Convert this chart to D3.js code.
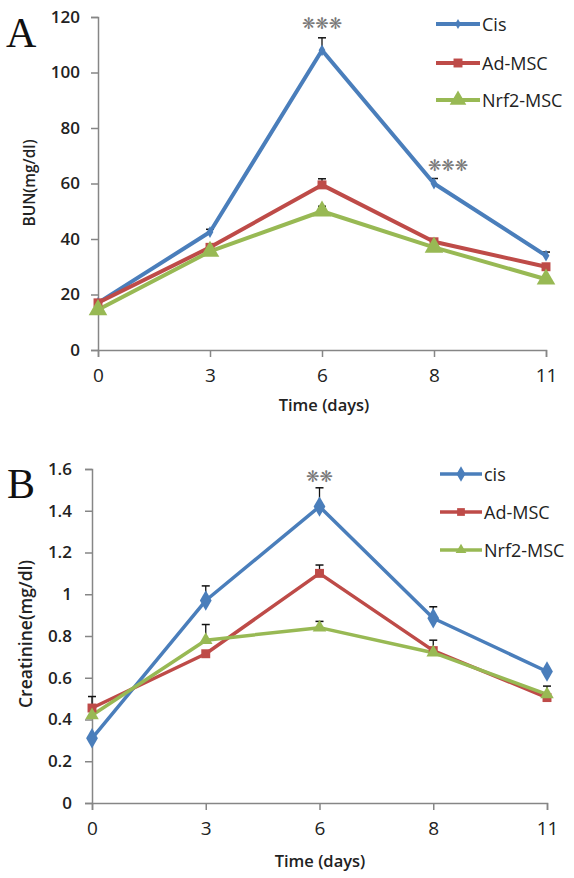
<!DOCTYPE html>
<html><head><meta charset="utf-8">
<script src="https://cdn.jsdelivr.net/npm/d3@7"></script>
<style>body{margin:0;background:#fff}svg{display:block}</style>
</head><body>
<svg id="c" width="574" height="878"></svg>
<script>
const days = ["0","3","6","8","11"];
// Panel A: BUN (mg/dl)
const bunCis   = [17, 42.5, 108, 60, 34];
const bunAd    = [17, 37, 59.5, 39, 30];
const bunNrf2  = [14.5, 35.5, 50, 37, 25.5];
const bunCisErr  = [0.8, 1, 4.5, 1.8, 1.3];
const bunAdErr   = [0.6, 0.8, 2.2, 1, 0.6];
const bunNrf2Err = [0.5, 0.6, 1.8, 0.6, 0.5];
const bunTicks = [0,20,40,60,80,100,120];
// Panel B: Creatinine (mg/dl)
const crCis   = [0.31, 0.97, 1.42, 0.885, 0.63];
const crAd    = [0.455, 0.715, 1.10, 0.73, 0.505];
const crNrf2  = [0.42, 0.78, 0.84, 0.72, 0.52];
const crCisErr  = [0, 0.07, 0.09, 0.055, 0];
const crAdErr   = [0.055, 0, 0.04, 0.05, 0];
const crNrf2Err = [0, 0.075, 0.03, 0, 0.04];
const crTicks = [0,0.2,0.4,0.6,0.8,1,1.2,1.4,1.6];

const colors = {cis:"#4a7ebb", ad:"#be4b48", nrf:"#98b954"};
const svg = d3.select("#c");

function panel(cfg){
  const g = svg.append("g");
  const x = d3.scalePoint().domain(days).range(cfg.xr);
  const y = d3.scaleLinear().domain(cfg.yd).range(cfg.yr);
  // axes
  const ya = g.append("g").attr("transform",`translate(${cfg.xr[0]},0)`)
    .call(d3.axisLeft(y).tickValues(cfg.ticks).tickSize(7).tickPadding(cfg.ypad).tickFormat(d=>String(d)));
  ya.select(".domain").attr("stroke","#868686").attr("stroke-width",1.5);
  ya.selectAll(".tick line").attr("stroke","#868686").attr("stroke-width",1.5);
  ya.selectAll("text").attr("font-family","Open Sans").attr("font-weight",600).attr("font-size",17).attr("fill","#222");
  const xa = g.append("g").attr("transform",`translate(0,${cfg.yr[0]})`)
    .call(d3.axisBottom(x).tickSize(7).tickPadding(cfg.xpad));
  xa.select(".domain").attr("stroke","#868686").attr("stroke-width",1.5);
  xa.selectAll(".tick line").attr("stroke","#868686").attr("stroke-width",1.5);
  xa.selectAll("text").attr("font-family","Open Sans").attr("font-size",19).attr("fill","#222");
  // labels
  g.append("text").attr("x",cfg.xlab[0]).attr("y",cfg.xlab[1]).attr("text-anchor","middle")
    .attr("font-family","Open Sans").attr("font-weight",600).attr("font-size",16.5).attr("fill","#222").text("Time (days)");
  g.append("text").attr("transform",`translate(${cfg.ylab[0]},${cfg.ylab[1]}) rotate(-90)`).attr("text-anchor","middle")
    .attr("font-family","Open Sans").attr("font-weight",600).attr("font-size",cfg.ylabSize).attr("fill","#222").text(cfg.ylabel);
  g.append("text").attr("x",cfg.letter[0]).attr("y",cfg.letter[1])
    .attr("font-family","Liberation Serif").attr("font-size",42).attr("fill","#111").text(cfg.letterText);

  const line = d3.line().x((d,i)=>x(days[i])).y(d=>y(d));
  cfg.series.forEach(s=>{
    s.err.forEach((e,i)=>{
      if(!e) return;
      const cx = x(days[i]);
      g.append("line").attr("x1",cx).attr("x2",cx).attr("y1",y(s.v[i])).attr("y2",y(s.v[i]+e)).attr("stroke","#111").attr("stroke-width",1.3);
      g.append("line").attr("x1",cx-4).attr("x2",cx+4).attr("y1",y(s.v[i]+e)).attr("y2",y(s.v[i]+e)).attr("stroke","#111").attr("stroke-width",1.5);
    });
  });
  cfg.series.forEach(s=>{
    g.append("path").datum(s.v).attr("d",line).attr("fill","none").attr("stroke",s.c).attr("stroke-width",cfg.lw).attr("stroke-linejoin","round");
  });
  cfg.series.forEach(s=>{
    const sym = d3.symbol().type(s.sym).size(s.size);
    g.selectAll(null).data(s.v).enter().append("path")
      .attr("transform",(d,i)=>`translate(${x(days[i])},${y(d)})`)
      .attr("d",sym).attr("fill",s.c);
  });
  cfg.stars.forEach(st=>{
    g.append("text").attr("x",x(days[st.i])+(st.dx||0)).attr("y",y(st.v)).attr("text-anchor","middle")
      .attr("font-family","DejaVu Sans").attr("font-size",16).attr("fill","#777").text(st.t);
  });
  cfg.series.forEach((s,k)=>{
    const ly = cfg.leg.y[k];
    g.append("line").attr("x1",cfg.leg.x1).attr("x2",cfg.leg.x2).attr("y1",ly).attr("y2",ly).attr("stroke",s.c).attr("stroke-width",cfg.lw);
    g.append("path").attr("transform",`translate(${(cfg.leg.x1+cfg.leg.x2)/2},${ly})`).attr("d",d3.symbol().type(s.sym).size(s.lsize)()).attr("fill",s.c);
    g.append("text").attr("x",cfg.leg.x2+2).attr("y",ly+6.5).attr("font-family","Open Sans").attr("font-size",18).attr("fill","#222").text(s.name);
  });
}

panel({
  xr:[98,546], yd:[0,120], yr:[350,17], ticks:bunTicks, ypad:11, xpad:12, lw:4,
  xlab:[324,411], ylab:[35,183], ylabel:"BUN(mg/dl)", ylabSize:15.5,
  letter:[6,47], letterText:"A",
  series:[
    {name:"Cis", v:bunCis, err:bunCisErr, c:colors.cis, sym:d3.symbolDiamond, size:40, lsize:30},
    {name:"Ad-MSC", v:bunAd, err:bunAdErr, c:colors.ad, sym:d3.symbolSquare, size:80, lsize:80},
    {name:"Nrf2-MSC", v:bunNrf2, err:bunNrf2Err, c:colors.nrf, sym:d3.symbolTriangle, size:150, lsize:120}
  ],
  stars:[{i:2, v:115.5, t:"❋❋❋"},{i:3, v:64.5, t:"❋❋❋", dx:14}],
  leg:{x1:436, x2:480, y:[24,63,100]}
});
panel({
  xr:[92,547], yd:[0,1.6], yr:[803,469], ticks:crTicks, ypad:13, xpad:12, lw:3.5,
  xlab:[320,867], ylab:[32,634], ylabel:"Creatinine(mg/dl)", ylabSize:17.5,
  letter:[7,498], letterText:"B",
  series:[
    {name:"cis", v:crCis, err:crCisErr, c:colors.cis, sym:d3.symbolDiamond, size:120, lsize:70},
    {name:"Ad-MSC", v:crAd, err:crAdErr, c:colors.ad, sym:d3.symbolSquare, size:80, lsize:60},
    {name:"Nrf2-MSC", v:crNrf2, err:crNrf2Err, c:colors.nrf, sym:d3.symbolTriangle, size:80, lsize:50}
  ],
  stars:[{i:2, v:1.54, t:"❋❋"}],
  leg:{x1:440, x2:482, y:[474,512,550]}
});
</script>
</body></html>
